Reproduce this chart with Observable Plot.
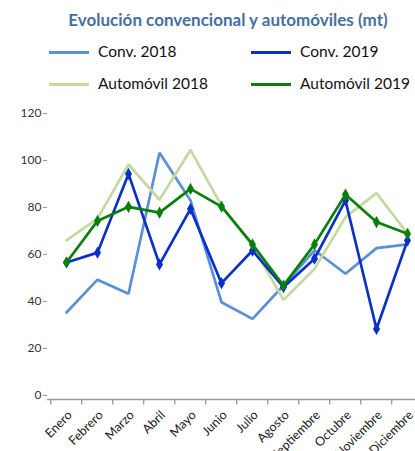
<!DOCTYPE html>
<html>
<head>
<meta charset="utf-8">
<script src="https://cdn.jsdelivr.net/npm/d3@7"></script>
<script src="https://cdn.jsdelivr.net/npm/@observablehq/plot@0.6"></script>
<style>
  html, body { margin: 0; padding: 0; background: #fff; }
  body { width: 415px; height: 451px; overflow: hidden; position: relative; font-family: Lato, "Open Sans", sans-serif; }
  #header { position: absolute; left: 0; top: 0; width: 415px; height: 100px; }
  #title { position: absolute; left: 0; width: 456px; top: 10px; text-align: center; font-weight: bold; font-size: 17px; color: #44719f; white-space: nowrap; line-height: 1.2; }
  .leg { position: absolute; font-size: 15.5px; color: #111; white-space: nowrap; line-height: 1; }
  .sw { position: absolute; width: 40px; height: 3px; }
  #chart { position: absolute; left: 0; top: 100px; }
  #chart svg { overflow: visible; }
</style>
</head>
<body>
<div id="header">
  <div id="title">Evolución convencional y automóviles (mt)</div>
</div>
<div id="chart"></div>
<script>
const months = ["Enero","Febrero","Marzo","Abril","Mayo","Junio","Julio","Agosto","Septiembre","Octubre","Noviembre","Diciembre"];
const conv2018 = [37, 51, 45, 105, 84.7, 41.4, 34.3, 48.5, 63.5, 53.5, 64.4, 66];
const conv2019 = [58.3, 62.5, 96, 57.5, 81.1, 49.5, 63.4, 47.8, 59.9, 84.7, 30, 67.7];
const auto2018 = [67.7, 77, 100, 85, 106.2, 82.5, 65.5, 42.4, 55.6, 77.6, 87.8, 70.6];
const auto2019 = [58.3, 76, 82, 79.5, 89.6, 82.1, 66, 48.5, 66, 87.2, 75.5, 70.5];
const yTicks = [0, 20, 40, 60, 80, 100, 120];

const seriesNames = ["Conv. 2018", "Conv. 2019", "Automóvil 2018", "Automóvil 2019"];
const seriesColors = ["#5b8fd6", "#0a30c8", "#c4d8a2", "#0a7f0a"];
const seriesValues = [conv2018, conv2019, auto2018, auto2019];
const seriesMarkers = [false, true, false, true];

// legend (HTML, above the SVG)
const header = document.getElementById("header");
const legPos = [[49, 52], [251, 52], [49, 84], [251, 84]];
seriesNames.forEach((name, i) => {
  const [lx, ly] = legPos[i];
  const sw = document.createElement("div");
  sw.className = "sw";
  sw.style.left = lx + "px";
  sw.style.top = (ly - 1.5) + "px";
  sw.style.background = seriesColors[i];
  header.appendChild(sw);
  const t = document.createElement("div");
  t.className = "leg";
  t.style.left = (lx + 49) + "px";
  t.style.top = (ly - 8.5) + "px";
  t.textContent = name;
  header.appendChild(t);
});

const data = [];
seriesNames.forEach((s, i) => months.forEach((m, j) => data.push({series: s, month: m, value: seriesValues[i][j], idx: i})));

const drawOrder = [0, 2, 1, 3];
const marks = [
  Plot.gridY(yTicks.filter(d => d > 0), {stroke: "#d0d0d0", strokeOpacity: 1, strokeWidth: 1.3, x1: 47, x2: 426}),
  Plot.axisY(yTicks, {tickSize: 4, tickPadding: 2, fontSize: 12, fill: "#333", stroke: "#999", dy: -4, label: null}),
  Plot.ruleY([0], {stroke: "#999", strokeWidth: 1.3}),
  Plot.ruleX([0], {x: () => 47, y1: 0, y2: 120, stroke: "#999", strokeWidth: 1.3}),
  Plot.ruleX(months, {x: d => d, y1: 0, y2: -2.3, dx: -15.8, stroke: "#999", strokeWidth: 1.3}),
  Plot.text(months, {x: d => d, y: () => 0, text: d => d, rotate: -45, textAnchor: "end", dx: 3.5, dy: 13.5, fontSize: 12.5, fill: "#222"})
];
drawOrder.forEach(i => {
  const d = data.filter(r => r.idx === i);
  marks.push(Plot.line(d, {x: "month", y: "value", stroke: seriesColors[i], strokeWidth: 2.7, strokeLinejoin: "miter"}));
  if (seriesMarkers[i]) {
    marks.push(Plot.dot(d, {x: "month", y: "value", symbol: "diamond", r: 2.8, fill: seriesColors[i], stroke: seriesColors[i]}));
  }
});

const chart = Plot.plot({
  width: 415,
  height: 351,
  marginTop: 17,
  marginBottom: 52,
  marginLeft: 47,
  marginRight: 0,
  x: {type: "point", domain: months, range: [47, 426], padding: 0.5, axis: null},
  y: {domain: [0, 120], axis: null},
  style: {fontFamily: "Lato, 'Open Sans', sans-serif", background: "transparent"},
  marks
});
document.getElementById("chart").appendChild(chart);
</script>
</body>
</html>
